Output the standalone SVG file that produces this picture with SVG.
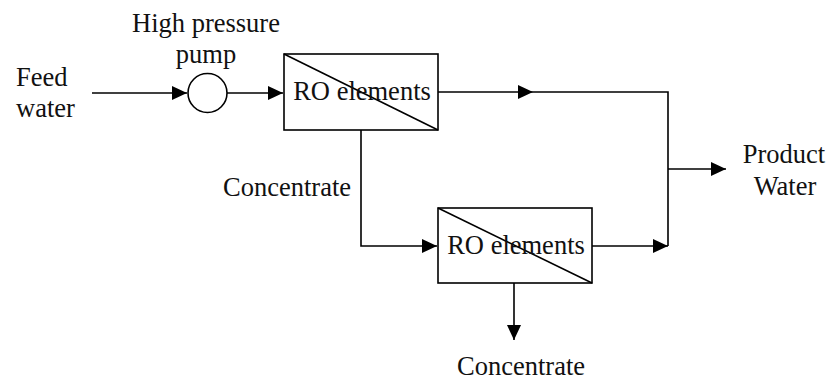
<svg xmlns="http://www.w3.org/2000/svg" width="828" height="381" viewBox="0 0 828 381">
<style>
.ln{fill:none;stroke:#000;stroke-width:1.6}
.bx{fill:#fff;stroke:#000;stroke-width:1.6}
.t{font-family:"Liberation Serif","Times New Roman",serif;font-size:26.5px;fill:#111}
</style>
<defs>
<marker id="ah" markerUnits="userSpaceOnUse" markerWidth="16" markerHeight="14" refX="15" refY="7" orient="auto">
<path d="M0,0 L15,7 L0,14 Z" fill="#000"/>
</marker>
</defs>
<rect width="828" height="381" fill="#fff"/>
<g id="connectors">
<line class="ln" x1="92" y1="93" x2="187" y2="93" marker-end="url(#ah)"/>
<line class="ln" x1="227" y1="93" x2="283" y2="93" marker-end="url(#ah)"/>
<line class="ln" x1="438" y1="92" x2="533" y2="92" marker-end="url(#ah)"/>
<polyline class="ln" points="533,92 668,92 668,246"/>
<line class="ln" x1="668" y1="169" x2="726" y2="169" marker-end="url(#ah)"/>
<polyline class="ln" points="361,130 361,246 437,246" marker-end="url(#ah)"/>
<line class="ln" x1="592" y1="246" x2="668" y2="246" marker-end="url(#ah)"/>
<line class="ln" x1="514" y1="283" x2="514" y2="340" marker-end="url(#ah)"/>
</g>
<g id="feed">
<text class="t" x="16" y="86">Feed</text>
<text class="t" x="16" y="117">water</text>
</g>
<g id="pump">
<circle class="bx" cx="207.5" cy="93" r="19.5"/>
<text class="t" x="206" y="32" text-anchor="middle">High pressure</text>
<text class="t" x="206" y="63" text-anchor="middle">pump</text>
</g>
<g id="ro1">
<rect class="bx" x="284" y="54" width="154" height="76"/>
<line class="ln" x1="284" y1="54" x2="438" y2="130"/>
<text class="t" x="362" y="100" text-anchor="middle">RO elements</text>
</g>
<g id="ro2">
<rect class="bx" x="438" y="208" width="154" height="75"/>
<line class="ln" x1="438" y1="208" x2="592" y2="283"/>
<text class="t" x="516" y="254" text-anchor="middle">RO elements</text>
</g>
<g id="concentrate1">
<text class="t" x="223" y="196">Concentrate</text>
</g>
<g id="concentrate2">
<text class="t" x="457" y="375">Concentrate</text>
</g>
<g id="product">
<text class="t" x="784" y="163" text-anchor="middle">Product</text>
<text class="t" x="785" y="195" text-anchor="middle">Water</text>
</g>
</svg>
